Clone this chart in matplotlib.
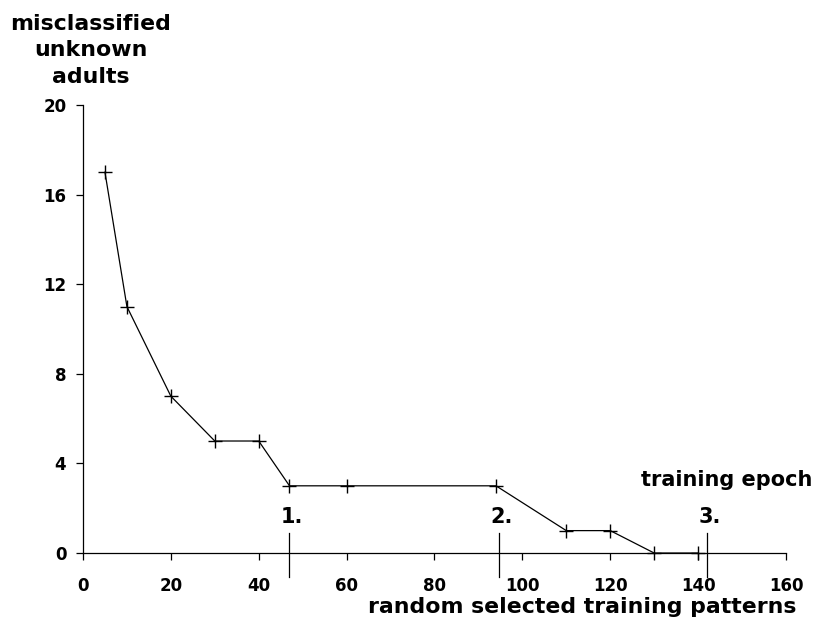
import matplotlib
matplotlib.use("Agg")
import matplotlib.pyplot as plt

# data
patterns = [5, 10, 20, 30, 40, 47, 60, 94, 110, 120, 130, 140]
misclassified = [17, 11, 7, 5, 5, 3, 3, 3, 1, 1, 0, 0]
epoch_positions = [47, 94.7, 142]
epoch_labels = ["1.", "2.", "3."]
xticks = [0, 20, 40, 60, 80, 100, 120, 140, 160]
yticks = [0, 4, 8, 12, 16, 20]

plt.rcParams['font.family'] = ['DejaVu Sans']
plt.rcParams['font.weight'] = 'bold'

fig = plt.figure(figsize=(8.2, 6.22), dpi=100)
ax = fig.add_axes([0.1012, 0.1109, 0.8573, 0.7203])

ax.plot(patterns, misclassified, color='black', lw=0.9, marker='+', ms=10,
        mew=1.0, clip_on=False, zorder=3)

ax.set_xlim(0, 160)
ax.set_ylim(0, 20)
ax.set_xticks(xticks)
ax.set_yticks(yticks)
ax.set_xticklabels([str(v) for v in xticks], fontsize=12, fontweight='bold')
ax.set_yticklabels([str(v) for v in yticks], fontsize=12, fontweight='bold')
ax.tick_params(axis='x', direction='out', length=5, width=0.9, pad=12)
ax.tick_params(axis='y', direction='out', length=5, width=0.9, pad=7)
for s in ['top', 'right']:
    ax.spines[s].set_visible(False)
for s in ['left', 'bottom']:
    ax.spines[s].set_linewidth(0.9)

# epoch markers
for xp, lab in zip(epoch_positions, epoch_labels):
    ax.plot([xp, xp], [0.9, -1.07], color='black', lw=0.9, clip_on=False)
    ax.text(xp + 0.6, 1.15, lab, ha='center', va='bottom', fontsize=15,
            fontweight='bold')

ax.text(146.4, 3.26, "training epoch", ha='center', va='center', fontsize=15,
        fontweight='bold')
ax.text(113.6, -2.41, "random selected training patterns", ha='center',
        va='center', fontsize=15.8, fontweight='bold', clip_on=False)

fig.text(91 / 820, 1 - 14 / 622, "misclassified\nunknown\nadults",
         ha='center', va='top', fontsize=15.8, fontweight='bold',
         linespacing=1.4)

fig.savefig("out.png", dpi=100)
